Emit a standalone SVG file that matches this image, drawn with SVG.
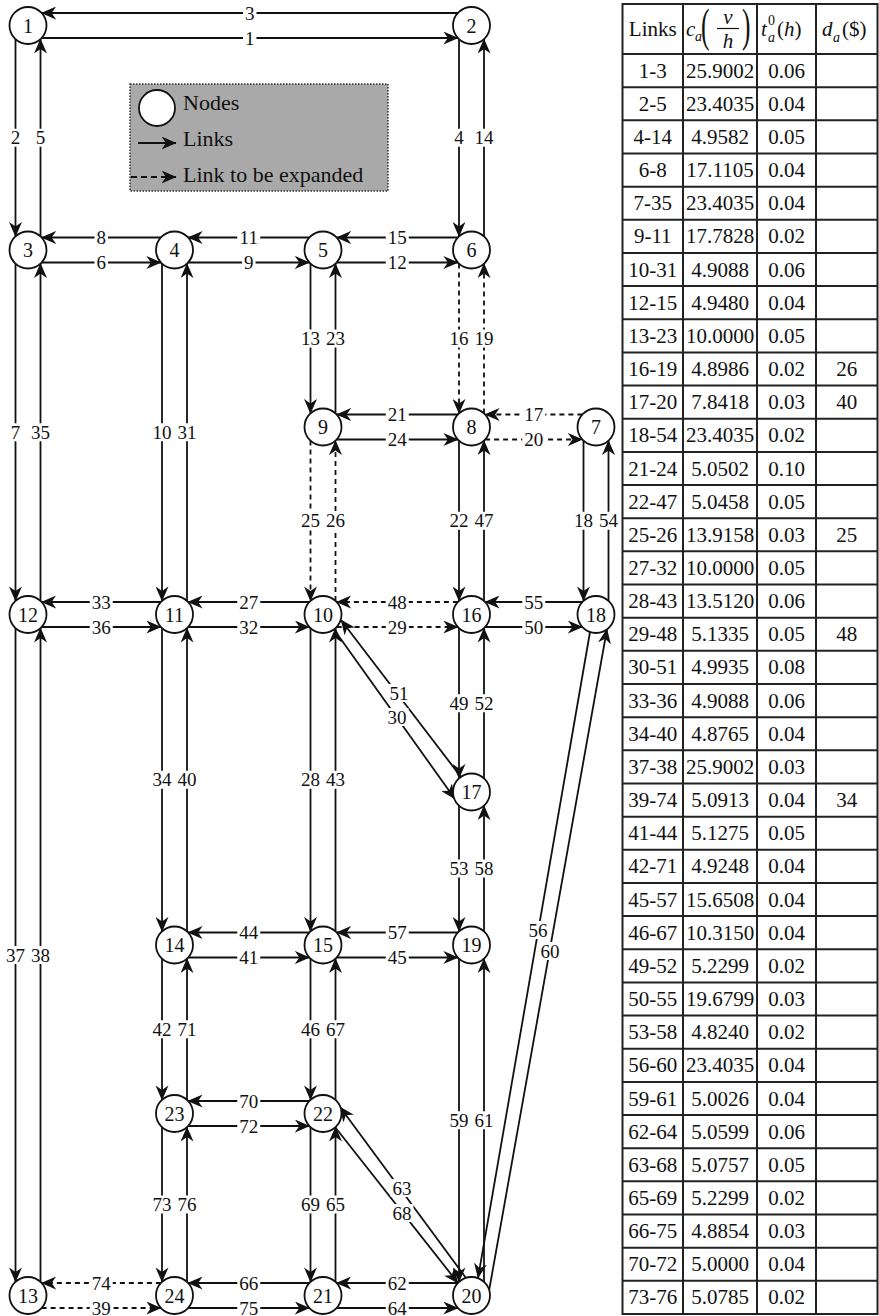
<svg xmlns="http://www.w3.org/2000/svg" width="879" height="1316" viewBox="0 0 879 1316" font-family="Liberation Serif, DejaVu Serif, serif">
<style>
text{font-family:"Liberation Serif","DejaVu Serif",serif}
.ln{stroke:#111;stroke-width:1.8;fill:none;marker-end:url(#ah)}
.ds{stroke-dasharray:5 4}
.nd circle{fill:#fff;stroke:#111;stroke-width:1.8}
.nd text{font-size:20px;text-anchor:middle;fill:#111}
.lb rect{fill:#fff}
.lb text{font-size:19px;text-anchor:middle;fill:#111}
.tb text{font-size:21px;text-anchor:middle;fill:#111}
.lg text{font-size:22px;fill:#111}
.it{font-style:italic}
</style>
<defs>
<marker id="ah" viewBox="0 0 15 13" markerWidth="15" markerHeight="13" refX="14.5" refY="6.5" orient="auto" markerUnits="userSpaceOnUse"><path d="M0,0 L15,6.5 L0,13 L4.5,6.5 Z" fill="#111"/></marker>
</defs>
<rect width="879" height="1316" fill="#fff"/>

<g id="legend" class="lg">
<rect x="130" y="84" width="258" height="107" fill="#a9a9a9" stroke="#333" stroke-width="1.5" stroke-dasharray="1.5 1.5"/>
<circle cx="157" cy="108" r="18" fill="#fff" stroke="#111" stroke-width="1.8"/>
<text x="183" y="110">Nodes</text>
<path class="ln" d="M138,143 H176"/>
<text x="183" y="146">Links</text>
<path class="ln" d="M131,177 H176" style="stroke-dasharray:6 4"/>
<text x="183" y="182">Link to be expanded</text>
</g>

<g id="connectors">
<path class="ln" d="M457.9,13 H41.6"/>
<path class="ln" d="M41.6,38 H457.9"/>
<path class="ln" d="M160.9,237.5 H41.6"/>
<path class="ln" d="M41.6,262.5 H160.9"/>
<path class="ln" d="M309.4,237.5 H188.1"/>
<path class="ln" d="M188.1,262.5 H309.4"/>
<path class="ln" d="M457.9,237.5 H336.6"/>
<path class="ln" d="M336.6,262.5 H457.9"/>
<path class="ln" d="M457.9,414.5 H336.6"/>
<path class="ln" d="M336.6,439.5 H457.9"/>
<path class="ln ds" d="M582.4,414.5 H485.1"/>
<path class="ln ds" d="M485.1,439.5 H582.4"/>
<path class="ln" d="M160.9,602 H41.6"/>
<path class="ln" d="M41.6,627 H160.9"/>
<path class="ln" d="M309.4,602 H188.1"/>
<path class="ln" d="M188.1,627 H309.4"/>
<path class="ln ds" d="M457.9,602 H336.6"/>
<path class="ln ds" d="M336.6,627 H457.9"/>
<path class="ln" d="M582.4,602 H485.1"/>
<path class="ln" d="M485.1,627 H582.4"/>
<path class="ln" d="M309.4,932.5 H188.1"/>
<path class="ln" d="M188.1,957.5 H309.4"/>
<path class="ln" d="M457.9,932.5 H336.6"/>
<path class="ln" d="M336.6,957.5 H457.9"/>
<path class="ln" d="M309.4,1101 H188.1"/>
<path class="ln" d="M188.1,1126 H309.4"/>
<path class="ln ds" d="M160.9,1283 H41.6"/>
<path class="ln ds" d="M41.6,1308 H160.9"/>
<path class="ln" d="M309.4,1283 H188.1"/>
<path class="ln" d="M188.1,1308 H309.4"/>
<path class="ln" d="M457.9,1283 H336.6"/>
<path class="ln" d="M336.6,1308 H457.9"/>

<path class="ln" d="M15.5,39.1 V236.4"/>
<path class="ln" d="M40.5,236.4 V39.1"/>
<path class="ln" d="M15.5,263.6 V600.9"/>
<path class="ln" d="M40.5,600.9 V263.6"/>
<path class="ln" d="M15.5,628.1 V1281.9"/>
<path class="ln" d="M40.5,1281.9 V628.1"/>
<path class="ln" d="M162,263.6 V600.9"/>
<path class="ln" d="M187,600.9 V263.6"/>
<path class="ln" d="M162,628.1 V931.4"/>
<path class="ln" d="M187,931.4 V628.1"/>
<path class="ln" d="M162,958.6 V1099.9"/>
<path class="ln" d="M187,1099.9 V958.6"/>
<path class="ln" d="M162,1127.1 V1281.9"/>
<path class="ln" d="M187,1281.9 V1127.1"/>
<path class="ln" d="M310.5,263.6 V413.4"/>
<path class="ln" d="M335.5,413.4 V263.6"/>
<path class="ln ds" d="M310.5,440.6 V600.9"/>
<path class="ln ds" d="M335.5,600.9 V440.6"/>
<path class="ln" d="M310.5,628.1 V931.4"/>
<path class="ln" d="M335.5,931.4 V628.1"/>
<path class="ln" d="M310.5,958.6 V1099.9"/>
<path class="ln" d="M335.5,1099.9 V958.6"/>
<path class="ln" d="M310.5,1127.1 V1281.9"/>
<path class="ln" d="M335.5,1281.9 V1127.1"/>
<path class="ln" d="M459,39.1 V236.4"/>
<path class="ln" d="M484,236.4 V39.1"/>
<path class="ln ds" d="M459,263.6 V413.4"/>
<path class="ln ds" d="M484,413.4 V263.6"/>
<path class="ln" d="M459,440.6 V600.9"/>
<path class="ln" d="M484,600.9 V440.6"/>
<path class="ln" d="M459,628.1 V778.4"/>
<path class="ln" d="M484,778.4 V628.1"/>
<path class="ln" d="M459,805.6 V931.4"/>
<path class="ln" d="M484,931.4 V805.6"/>
<path class="ln" d="M459,958.6 V1281.9"/>
<path class="ln" d="M484,1281.9 V958.6"/>
<path class="ln" d="M583.5,440.6 V600.9"/>
<path class="ln" d="M608.5,600.9 V440.6"/>

<path class="ln" d="M461,777 L341,620"/>
<path class="ln" d="M334,629.5 L455,799"/>
<path class="ln" d="M590,632 L478,1278"/>
<path class="ln" d="M489,1291 L607,629"/>
<path class="ln" d="M466,1278 L340,1107"/>
<path class="ln" d="M335,1127 L458,1283"/>

<g id="link-labels" class="lb">
<rect x="243" y="4" width="13.5" height="18"/><text x="249.75" y="19.5">3</text>
<rect x="243" y="29" width="13.5" height="18"/><text x="249.75" y="44.5">1</text>
<rect x="94.5" y="228.5" width="13.5" height="18"/><text x="101.25" y="244">8</text>
<rect x="94.5" y="253.5" width="13.5" height="18"/><text x="101.25" y="269">6</text>
<rect x="237.25" y="228.5" width="23" height="18"/><text x="248.75" y="244">11</text>
<rect x="242" y="253.5" width="13.5" height="18"/><text x="248.75" y="269">9</text>
<rect x="385.75" y="228.5" width="23" height="18"/><text x="397.25" y="244">15</text>
<rect x="385.75" y="253.5" width="23" height="18"/><text x="397.25" y="269">12</text>
<rect x="385.75" y="405.5" width="23" height="18"/><text x="397.25" y="421">21</text>
<rect x="385.75" y="430.5" width="23" height="18"/><text x="397.25" y="446">24</text>
<rect x="522.25" y="405.5" width="23" height="18"/><text x="533.75" y="421">17</text>
<rect x="522.25" y="430.5" width="23" height="18"/><text x="533.75" y="446">20</text>
<rect x="89.75" y="593" width="23" height="18"/><text x="101.25" y="608.5">33</text>
<rect x="89.75" y="618" width="23" height="18"/><text x="101.25" y="633.5">36</text>
<rect x="237.25" y="593" width="23" height="18"/><text x="248.75" y="608.5">27</text>
<rect x="237.25" y="618" width="23" height="18"/><text x="248.75" y="633.5">32</text>
<rect x="385.75" y="593" width="23" height="18"/><text x="397.25" y="608.5">48</text>
<rect x="385.75" y="618" width="23" height="18"/><text x="397.25" y="633.5">29</text>
<rect x="522.25" y="593" width="23" height="18"/><text x="533.75" y="608.5">55</text>
<rect x="522.25" y="618" width="23" height="18"/><text x="533.75" y="633.5">50</text>
<rect x="237.25" y="923.5" width="23" height="18"/><text x="248.75" y="939">44</text>
<rect x="237.25" y="948.5" width="23" height="18"/><text x="248.75" y="964">41</text>
<rect x="385.75" y="923.5" width="23" height="18"/><text x="397.25" y="939">57</text>
<rect x="385.75" y="948.5" width="23" height="18"/><text x="397.25" y="964">45</text>
<rect x="237.25" y="1092" width="23" height="18"/><text x="248.75" y="1107.5">70</text>
<rect x="237.25" y="1117" width="23" height="18"/><text x="248.75" y="1132.5">72</text>
<rect x="89.75" y="1274" width="23" height="18"/><text x="101.25" y="1289.5">74</text>
<rect x="89.75" y="1299" width="23" height="16"/><text x="101.25" y="1314.5">39</text>
<rect x="237.25" y="1274" width="23" height="18"/><text x="248.75" y="1289.5">66</text>
<rect x="237.25" y="1299" width="23" height="16"/><text x="248.75" y="1314.5">75</text>
<rect x="385.75" y="1274" width="23" height="18"/><text x="397.25" y="1289.5">62</text>
<rect x="385.75" y="1299" width="23" height="16"/><text x="397.25" y="1314.5">64</text>

<rect x="8.75" y="128.75" width="13.5" height="18"/><text x="15.5" y="144.25">2</text>
<rect x="33.75" y="128.75" width="13.5" height="18"/><text x="40.5" y="144.25">5</text>
<rect x="452.25" y="128.75" width="13.5" height="18"/><text x="459" y="144.25">4</text>
<rect x="472.5" y="128.75" width="23" height="18"/><text x="484" y="144.25">14</text>
<rect x="8.75" y="423.25" width="13.5" height="18"/><text x="15.5" y="438.75">7</text>
<rect x="29" y="423.25" width="23" height="18"/><text x="40.5" y="438.75">35</text>
<rect x="150.5" y="423.25" width="23" height="18"/><text x="162" y="438.75">10</text>
<rect x="175.5" y="423.25" width="23" height="18"/><text x="187" y="438.75">31</text>
<rect x="299" y="329.5" width="23" height="18"/><text x="310.5" y="345">13</text>
<rect x="324" y="329.5" width="23" height="18"/><text x="335.5" y="345">23</text>
<rect x="447.5" y="329.5" width="23" height="18"/><text x="459" y="345">16</text>
<rect x="472.5" y="329.5" width="23" height="18"/><text x="484" y="345">19</text>
<rect x="299" y="511.75" width="23" height="18"/><text x="310.5" y="527.25">25</text>
<rect x="324" y="511.75" width="23" height="18"/><text x="335.5" y="527.25">26</text>
<rect x="447.5" y="511.75" width="23" height="18"/><text x="459" y="527.25">22</text>
<rect x="472.5" y="511.75" width="23" height="18"/><text x="484" y="527.25">47</text>
<rect x="572" y="511.75" width="23" height="18"/><text x="583.5" y="527.25">18</text>
<rect x="597" y="511.75" width="23" height="18"/><text x="608.5" y="527.25">54</text>
<rect x="447.5" y="694.25" width="23" height="18"/><text x="459" y="709.75">49</text>
<rect x="472.5" y="694.25" width="23" height="18"/><text x="484" y="709.75">52</text>
<rect x="150.5" y="770.75" width="23" height="18"/><text x="162" y="786.25">34</text>
<rect x="175.5" y="770.75" width="23" height="18"/><text x="187" y="786.25">40</text>
<rect x="299" y="770.75" width="23" height="18"/><text x="310.5" y="786.25">28</text>
<rect x="324" y="770.75" width="23" height="18"/><text x="335.5" y="786.25">43</text>
<rect x="447.5" y="859.5" width="23" height="18"/><text x="459" y="875">53</text>
<rect x="472.5" y="859.5" width="23" height="18"/><text x="484" y="875">58</text>
<rect x="4" y="946" width="23" height="18"/><text x="15.5" y="961.5">37</text>
<rect x="29" y="946" width="23" height="18"/><text x="40.5" y="961.5">38</text>
<rect x="150.5" y="1020.25" width="23" height="18"/><text x="162" y="1035.75">42</text>
<rect x="175.5" y="1020.25" width="23" height="18"/><text x="187" y="1035.75">71</text>
<rect x="299" y="1020.25" width="23" height="18"/><text x="310.5" y="1035.75">46</text>
<rect x="324" y="1020.25" width="23" height="18"/><text x="335.5" y="1035.75">67</text>
<rect x="447.5" y="1111.25" width="23" height="18"/><text x="459" y="1126.75">59</text>
<rect x="472.5" y="1111.25" width="23" height="18"/><text x="484" y="1126.75">61</text>
<rect x="150.5" y="1195.5" width="23" height="18"/><text x="162" y="1211">73</text>
<rect x="175.5" y="1195.5" width="23" height="18"/><text x="187" y="1211">76</text>
<rect x="299" y="1195.5" width="23" height="18"/><text x="310.5" y="1211">69</text>
<rect x="324" y="1195.5" width="23" height="18"/><text x="335.5" y="1211">65</text>

<rect x="387.5" y="684" width="23" height="18"/><text x="399" y="699.5">51</text>
<rect x="385.5" y="708" width="23" height="18"/><text x="397" y="723.5">30</text>
<rect x="526.5" y="921" width="23" height="18"/><text x="538" y="936.5">56</text>
<rect x="538.5" y="942" width="23" height="18"/><text x="550" y="957.5">60</text>
<rect x="390.5" y="1179" width="23" height="18"/><text x="402" y="1194.5">63</text>
<rect x="390.5" y="1204" width="23" height="18"/><text x="402" y="1219.5">68</text>
</g>
</g>

<g id="n1" class="nd"><circle cx="28" cy="25.5" r="18.5"/><text x="28" y="32.5">1</text></g>
<g id="n2" class="nd"><circle cx="471.5" cy="25.5" r="18.5"/><text x="471.5" y="32.5">2</text></g>
<g id="n3" class="nd"><circle cx="28" cy="250" r="18.5"/><text x="28" y="257">3</text></g>
<g id="n4" class="nd"><circle cx="174.5" cy="250" r="18.5"/><text x="174.5" y="257">4</text></g>
<g id="n5" class="nd"><circle cx="323" cy="250" r="18.5"/><text x="323" y="257">5</text></g>
<g id="n6" class="nd"><circle cx="471.5" cy="250" r="18.5"/><text x="471.5" y="257">6</text></g>
<g id="n7" class="nd"><circle cx="596" cy="427" r="18.5"/><text x="596" y="434">7</text></g>
<g id="n8" class="nd"><circle cx="471.5" cy="427" r="18.5"/><text x="471.5" y="434">8</text></g>
<g id="n9" class="nd"><circle cx="323" cy="427" r="18.5"/><text x="323" y="434">9</text></g>
<g id="n10" class="nd"><circle cx="323" cy="614.5" r="18.5"/><text x="323" y="621.5">10</text></g>
<g id="n11" class="nd"><circle cx="174.5" cy="614.5" r="18.5"/><text x="174.5" y="621.5">11</text></g>
<g id="n12" class="nd"><circle cx="28" cy="614.5" r="18.5"/><text x="28" y="621.5">12</text></g>
<g id="n13" class="nd"><circle cx="28" cy="1295.5" r="18.5"/><text x="28" y="1302.5">13</text></g>
<g id="n14" class="nd"><circle cx="174.5" cy="945" r="18.5"/><text x="174.5" y="952">14</text></g>
<g id="n15" class="nd"><circle cx="323" cy="945" r="18.5"/><text x="323" y="952">15</text></g>
<g id="n16" class="nd"><circle cx="471.5" cy="614.5" r="18.5"/><text x="471.5" y="621.5">16</text></g>
<g id="n17" class="nd"><circle cx="471.5" cy="792" r="18.5"/><text x="471.5" y="799">17</text></g>
<g id="n18" class="nd"><circle cx="596" cy="614.5" r="18.5"/><text x="596" y="621.5">18</text></g>
<g id="n19" class="nd"><circle cx="471.5" cy="945" r="18.5"/><text x="471.5" y="952">19</text></g>
<g id="n20" class="nd"><circle cx="471.5" cy="1295.5" r="18.5"/><text x="471.5" y="1302.5">20</text></g>
<g id="n21" class="nd"><circle cx="323" cy="1295.5" r="18.5"/><text x="323" y="1302.5">21</text></g>
<g id="n22" class="nd"><circle cx="323" cy="1113.5" r="18.5"/><text x="323" y="1120.5">22</text></g>
<g id="n23" class="nd"><circle cx="174.5" cy="1113.5" r="18.5"/><text x="174.5" y="1120.5">23</text></g>
<g id="n24" class="nd"><circle cx="174.5" cy="1295.5" r="18.5"/><text x="174.5" y="1302.5">24</text></g>

<g id="table" class="tb">
<rect x="622.5" y="4" width="255" height="1310" fill="#fff" stroke="#222" stroke-width="2"/>
<path d="M683,4 V1314 M757,4 V1314 M816,4 V1314" stroke="#222" stroke-width="2" fill="none"/>
<path stroke="#222" stroke-width="2" fill="none" d="M622.5,54H877.5 M622.5,87.16H877.5 M622.5,120.32H877.5 M622.5,153.47H877.5 M622.5,186.63H877.5 M622.5,219.79H877.5 M622.5,252.95H877.5 M622.5,286.11H877.5 M622.5,319.26H877.5 M622.5,352.42H877.5 M622.5,385.58H877.5 M622.5,418.74H877.5 M622.5,451.89H877.5 M622.5,485.05H877.5 M622.5,518.21H877.5 M622.5,551.37H877.5 M622.5,584.53H877.5 M622.5,617.68H877.5 M622.5,650.84H877.5 M622.5,684H877.5 M622.5,717.16H877.5 M622.5,750.32H877.5 M622.5,783.47H877.5 M622.5,816.63H877.5 M622.5,849.79H877.5 M622.5,882.95H877.5 M622.5,916.11H877.5 M622.5,949.26H877.5 M622.5,982.42H877.5 M622.5,1015.58H877.5 M622.5,1048.74H877.5 M622.5,1081.89H877.5 M622.5,1115.05H877.5 M622.5,1148.21H877.5 M622.5,1181.37H877.5 M622.5,1214.53H877.5 M622.5,1247.68H877.5 M622.5,1280.84H877.5"/>
<text x="652.75" y="36">Links</text>
<text x="686" y="36" class="it" style="text-anchor:start">c</text>
<text x="695" y="41" class="it" style="text-anchor:start;font-size:14px">a</text>
<text transform="translate(701,41) scale(0.55,1)" style="text-anchor:start;font-size:46px">(</text>
<text x="728" y="24" class="it">v</text>
<path d="M717,28.5 H739" stroke="#111" stroke-width="1.2"/>
<text x="728" y="48" class="it">h</text>
<text transform="translate(742,41) scale(0.55,1)" style="text-anchor:start;font-size:46px">)</text>
<text x="761" y="36" class="it" style="text-anchor:start">t</text>
<text x="768" y="25" style="text-anchor:start;font-size:14px">0</text>
<text x="768" y="42" class="it" style="text-anchor:start;font-size:14px">a</text>
<text x="777" y="36" style="text-anchor:start">(<tspan class="it">h</tspan>)</text>
<text x="822" y="36" class="it" style="text-anchor:start">d</text>
<text x="833" y="42" class="it" style="text-anchor:start;font-size:14px">a</text>
<text x="842" y="36" style="text-anchor:start">($)</text>

<text><tspan x="652.75" y="77.6">1-3</tspan><tspan x="652.75" y="110.8">2-5</tspan><tspan x="652.75" y="143.9">4-14</tspan><tspan x="652.75" y="177.1">6-8</tspan><tspan x="652.75" y="210.2">7-35</tspan><tspan x="652.75" y="243.4">9-11</tspan><tspan x="652.75" y="276.6">10-31</tspan><tspan x="652.75" y="309.7">12-15</tspan><tspan x="652.75" y="342.9">13-23</tspan><tspan x="652.75" y="376">16-19</tspan><tspan x="652.75" y="409.2">17-20</tspan><tspan x="652.75" y="442.3">18-54</tspan><tspan x="652.75" y="475.5">21-24</tspan><tspan x="652.75" y="508.7">22-47</tspan><tspan x="652.75" y="541.8">25-26</tspan><tspan x="652.75" y="575">27-32</tspan><tspan x="652.75" y="608.1">28-43</tspan><tspan x="652.75" y="641.3">29-48</tspan><tspan x="652.75" y="674.4">30-51</tspan><tspan x="652.75" y="707.6">33-36</tspan><tspan x="652.75" y="740.8">34-40</tspan><tspan x="652.75" y="773.9">37-38</tspan><tspan x="652.75" y="807.1">39-74</tspan><tspan x="652.75" y="840.2">41-44</tspan><tspan x="652.75" y="873.4">42-71</tspan><tspan x="652.75" y="906.6">45-57</tspan><tspan x="652.75" y="939.7">46-67</tspan><tspan x="652.75" y="972.9">49-52</tspan><tspan x="652.75" y="1006">50-55</tspan><tspan x="652.75" y="1039.2">53-58</tspan><tspan x="652.75" y="1072.3">56-60</tspan><tspan x="652.75" y="1105.5">59-61</tspan><tspan x="652.75" y="1138.7">62-64</tspan><tspan x="652.75" y="1171.8">63-68</tspan><tspan x="652.75" y="1205">65-69</tspan><tspan x="652.75" y="1238.1">66-75</tspan><tspan x="652.75" y="1271.3">70-72</tspan><tspan x="652.75" y="1304.4">73-76</tspan></text>

<text><tspan x="720" y="77.6">25.9002</tspan><tspan x="720" y="110.8">23.4035</tspan><tspan x="720" y="143.9">4.9582</tspan><tspan x="720" y="177.1">17.1105</tspan><tspan x="720" y="210.2">23.4035</tspan><tspan x="720" y="243.4">17.7828</tspan><tspan x="720" y="276.6">4.9088</tspan><tspan x="720" y="309.7">4.9480</tspan><tspan x="720" y="342.9">10.0000</tspan><tspan x="720" y="376">4.8986</tspan><tspan x="720" y="409.2">7.8418</tspan><tspan x="720" y="442.3">23.4035</tspan><tspan x="720" y="475.5">5.0502</tspan><tspan x="720" y="508.7">5.0458</tspan><tspan x="720" y="541.8">13.9158</tspan><tspan x="720" y="575">10.0000</tspan><tspan x="720" y="608.1">13.5120</tspan><tspan x="720" y="641.3">5.1335</tspan><tspan x="720" y="674.4">4.9935</tspan><tspan x="720" y="707.6">4.9088</tspan><tspan x="720" y="740.8">4.8765</tspan><tspan x="720" y="773.9">25.9002</tspan><tspan x="720" y="807.1">5.0913</tspan><tspan x="720" y="840.2">5.1275</tspan><tspan x="720" y="873.4">4.9248</tspan><tspan x="720" y="906.6">15.6508</tspan><tspan x="720" y="939.7">10.3150</tspan><tspan x="720" y="972.9">5.2299</tspan><tspan x="720" y="1006">19.6799</tspan><tspan x="720" y="1039.2">4.8240</tspan><tspan x="720" y="1072.3">23.4035</tspan><tspan x="720" y="1105.5">5.0026</tspan><tspan x="720" y="1138.7">5.0599</tspan><tspan x="720" y="1171.8">5.0757</tspan><tspan x="720" y="1205">5.2299</tspan><tspan x="720" y="1238.1">4.8854</tspan><tspan x="720" y="1271.3">5.0000</tspan><tspan x="720" y="1304.4">5.0785</tspan></text>

<text><tspan x="786.5" y="77.6">0.06</tspan><tspan x="786.5" y="110.8">0.04</tspan><tspan x="786.5" y="143.9">0.05</tspan><tspan x="786.5" y="177.1">0.04</tspan><tspan x="786.5" y="210.2">0.04</tspan><tspan x="786.5" y="243.4">0.02</tspan><tspan x="786.5" y="276.6">0.06</tspan><tspan x="786.5" y="309.7">0.04</tspan><tspan x="786.5" y="342.9">0.05</tspan><tspan x="786.5" y="376">0.02</tspan><tspan x="786.5" y="409.2">0.03</tspan><tspan x="786.5" y="442.3">0.02</tspan><tspan x="786.5" y="475.5">0.10</tspan><tspan x="786.5" y="508.7">0.05</tspan><tspan x="786.5" y="541.8">0.03</tspan><tspan x="786.5" y="575">0.05</tspan><tspan x="786.5" y="608.1">0.06</tspan><tspan x="786.5" y="641.3">0.05</tspan><tspan x="786.5" y="674.4">0.08</tspan><tspan x="786.5" y="707.6">0.06</tspan><tspan x="786.5" y="740.8">0.04</tspan><tspan x="786.5" y="773.9">0.03</tspan><tspan x="786.5" y="807.1">0.04</tspan><tspan x="786.5" y="840.2">0.05</tspan><tspan x="786.5" y="873.4">0.04</tspan><tspan x="786.5" y="906.6">0.04</tspan><tspan x="786.5" y="939.7">0.04</tspan><tspan x="786.5" y="972.9">0.02</tspan><tspan x="786.5" y="1006">0.03</tspan><tspan x="786.5" y="1039.2">0.02</tspan><tspan x="786.5" y="1072.3">0.04</tspan><tspan x="786.5" y="1105.5">0.04</tspan><tspan x="786.5" y="1138.7">0.06</tspan><tspan x="786.5" y="1171.8">0.05</tspan><tspan x="786.5" y="1205">0.02</tspan><tspan x="786.5" y="1238.1">0.03</tspan><tspan x="786.5" y="1271.3">0.04</tspan><tspan x="786.5" y="1304.4">0.02</tspan></text>

<text><tspan x="846.75" y="376">26</tspan><tspan x="846.75" y="409.2">40</tspan><tspan x="846.75" y="541.8">25</tspan><tspan x="846.75" y="641.3">48</tspan><tspan x="846.75" y="807.1">34</tspan></text>
</g>
</svg>
